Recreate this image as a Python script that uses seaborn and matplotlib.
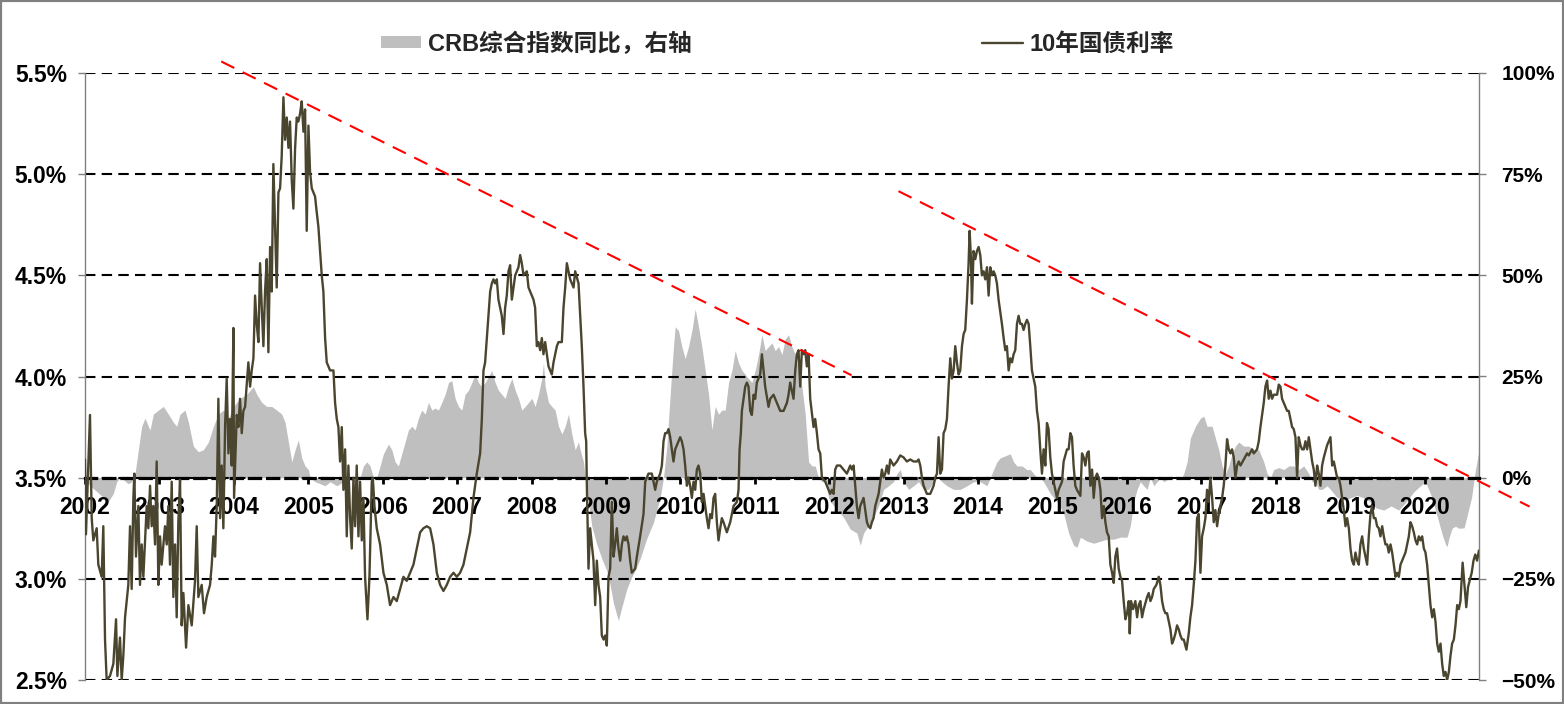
import pandas as pd
import seaborn as sns
import matplotlib.pyplot as plt
from matplotlib.patches import Patch, Rectangle
from matplotlib.lines import Line2D
from matplotlib.ticker import FuncFormatter

# 10Y government bond yield (%)
yield_year = [
    2002.000, 2002.013, 2002.067, 2002.090, 2002.112, 2002.157, 2002.179, 2002.224, 2002.246, 2002.269,
    2002.291, 2002.336, 2002.381, 2002.417, 2002.435, 2002.470, 2002.493, 2002.515, 2002.538, 2002.582,
    2002.605, 2002.627, 2002.650, 2002.663, 2002.685, 2002.717, 2002.739, 2002.762, 2002.784, 2002.829,
    2002.851, 2002.874, 2002.896, 2002.918, 2002.941, 2002.963, 2002.986, 2003.008, 2003.030, 2003.075,
    2003.098, 2003.120, 2003.142, 2003.165, 2003.187, 2003.210, 2003.232, 2003.254, 2003.277, 2003.299,
    2003.322, 2003.358, 2003.389, 2003.434, 2003.478, 2003.501, 2003.523, 2003.568, 2003.599, 2003.635,
    2003.680, 2003.703, 2003.725, 2003.747, 2003.770, 2003.792, 2003.815, 2003.837, 2003.859, 2003.882,
    2003.904, 2003.927, 2003.949, 2003.971, 2003.994, 2004.003, 2004.039, 2004.061, 2004.083, 2004.106,
    2004.128, 2004.151, 2004.195, 2004.218, 2004.240, 2004.263, 2004.285, 2004.307, 2004.330, 2004.352,
    2004.375, 2004.397, 2004.419, 2004.442, 2004.464, 2004.487, 2004.509, 2004.531, 2004.554, 2004.576,
    2004.599, 2004.621, 2004.643, 2004.666, 2004.688, 2004.711, 2004.733, 2004.755, 2004.778, 2004.800,
    2004.823, 2004.845, 2004.867, 2004.890, 2004.912, 2004.935, 2004.957, 2004.979, 2005.002, 2005.024,
    2005.047, 2005.091, 2005.114, 2005.136, 2005.159, 2005.181, 2005.203, 2005.226, 2005.248,
    2005.293, 2005.338, 2005.360, 2005.383, 2005.405, 2005.427, 2005.450, 2005.472, 2005.495, 2005.517,
    2005.539, 2005.562, 2005.584, 2005.607, 2005.629, 2005.651, 2005.674, 2005.696, 2005.719, 2005.741,
    2005.763, 2005.795, 2005.822, 2005.853, 2005.867, 2005.889, 2005.920, 2005.965, 2006.010, 2006.055,
    2006.099, 2006.144, 2006.189, 2006.234, 2006.279, 2006.323, 2006.368, 2006.413, 2006.458, 2006.503,
    2006.547, 2006.592, 2006.637, 2006.682, 2006.727, 2006.771, 2006.816, 2006.861, 2006.906, 2006.951,
    2006.995, 2007.040, 2007.085, 2007.130, 2007.175, 2007.219, 2007.264, 2007.309, 2007.332, 2007.354,
    2007.376, 2007.399, 2007.444, 2007.466, 2007.488, 2007.511, 2007.533, 2007.555, 2007.578, 2007.600,
    2007.623, 2007.645, 2007.667, 2007.690, 2007.712, 2007.735, 2007.780, 2007.824, 2007.847, 2007.869,
    2007.892, 2007.936, 2007.959, 2007.981, 2008.004, 2008.026, 2008.048, 2008.071, 2008.093, 2008.116,
    2008.138, 2008.160, 2008.183, 2008.228, 2008.272, 2008.295, 2008.340, 2008.362, 2008.407, 2008.429,
    2008.452, 2008.474, 2008.519, 2008.564, 2008.586, 2008.631,
    2008.653, 2008.675, 2008.698, 2008.720, 2008.734, 2008.743, 2008.765, 2008.787, 2008.810, 2008.832,
    2008.855, 2008.877, 2008.899, 2008.922, 2008.944, 2008.967, 2008.989, 2009.011, 2009.034, 2009.056,
    2009.079, 2009.101, 2009.123, 2009.146, 2009.168, 2009.191, 2009.213, 2009.235, 2009.258, 2009.280,
    2009.303, 2009.325, 2009.347, 2009.392, 2009.415, 2009.459, 2009.504, 2009.527, 2009.549, 2009.571,
    2009.616, 2009.639, 2009.661, 2009.683, 2009.728, 2009.751, 2009.773, 2009.795, 2009.818, 2009.840,
    2009.863, 2009.885, 2009.907, 2009.930, 2009.952, 2009.997, 2010.019, 2010.042, 2010.064, 2010.087,
    2010.109, 2010.131, 2010.154, 2010.176, 2010.199, 2010.221, 2010.243, 2010.266, 2010.288, 2010.311,
    2010.333, 2010.355, 2010.378, 2010.400, 2010.423, 2010.445, 2010.467, 2010.490, 2010.512, 2010.535,
    2010.557, 2010.579, 2010.624, 2010.669, 2010.714, 2010.759, 2010.781, 2010.795, 2010.812, 2010.826,
    2010.848, 2010.871, 2010.893, 2010.915, 2010.938, 2010.960, 2010.983, 2011.005, 2011.027, 2011.072,
    2011.095, 2011.117, 2011.139, 2011.184, 2011.207, 2011.251, 2011.296, 2011.341, 2011.386, 2011.431,
    2011.453, 2011.475, 2011.520, 2011.543, 2011.565, 2011.587, 2011.610, 2011.632, 2011.655, 2011.677,
    2011.699, 2011.722, 2011.744, 2011.789, 2011.811, 2011.834, 2011.856, 2011.879, 2011.901, 2011.946,
    2011.991,
    2012.013, 2012.035, 2012.058, 2012.080, 2012.103, 2012.147, 2012.192, 2012.237, 2012.259, 2012.282,
    2012.304, 2012.327, 2012.349, 2012.371, 2012.394, 2012.416, 2012.461, 2012.483, 2012.506, 2012.528,
    2012.551, 2012.573, 2012.595, 2012.618, 2012.663, 2012.685, 2012.707, 2012.730, 2012.752, 2012.775,
    2012.797, 2012.819, 2012.864, 2012.909, 2012.954, 2012.999, 2013.043, 2013.088, 2013.133, 2013.178,
    2013.200, 2013.223, 2013.245, 2013.267, 2013.290, 2013.312, 2013.357, 2013.379, 2013.402, 2013.424,
    2013.447, 2013.469, 2013.491, 2013.514, 2013.536, 2013.559, 2013.581, 2013.603, 2013.626, 2013.648,
    2013.671, 2013.693, 2013.715, 2013.738, 2013.760, 2013.783, 2013.805, 2013.827, 2013.850, 2013.872,
    2013.886, 2013.904, 2013.917, 2013.939, 2013.962, 2013.984, 2014.007, 2014.029, 2014.051, 2014.074,
    2014.096, 2014.119, 2014.141, 2014.163, 2014.186, 2014.208, 2014.231, 2014.253, 2014.275, 2014.298,
    2014.320, 2014.343, 2014.365, 2014.387, 2014.410, 2014.432, 2014.455, 2014.477, 2014.499, 2014.522,
    2014.544, 2014.567, 2014.589, 2014.611, 2014.634, 2014.656, 2014.679, 2014.701, 2014.723, 2014.746,
    2014.768, 2014.791, 2014.813, 2014.835, 2014.858, 2014.880, 2014.903, 2014.925, 2014.947, 2014.970,
    2014.992, 2015.015, 2015.037, 2015.059, 2015.082, 2015.104, 2015.127, 2015.149, 2015.194, 2015.216,
    2015.239, 2015.261, 2015.283, 2015.306, 2015.328,
    2015.374, 2015.396, 2015.419, 2015.441, 2015.464, 2015.486, 2015.508, 2015.531, 2015.553, 2015.576,
    2015.598, 2015.620, 2015.643, 2015.665, 2015.688, 2015.710, 2015.732, 2015.755, 2015.777, 2015.800,
    2015.822, 2015.844, 2015.867, 2015.889, 2015.912, 2015.934, 2015.956, 2015.979, 2016.001, 2016.024,
    2016.037, 2016.055, 2016.082, 2016.113, 2016.136, 2016.158, 2016.180, 2016.203, 2016.225, 2016.270,
    2016.292, 2016.315, 2016.337, 2016.360, 2016.395, 2016.427, 2016.449, 2016.472, 2016.494, 2016.516,
    2016.539, 2016.561, 2016.584, 2016.606, 2016.628, 2016.651, 2016.673, 2016.696, 2016.718, 2016.741,
    2016.763, 2016.799, 2016.830, 2016.852, 2016.875, 2016.897, 2016.920, 2016.942, 2016.964, 2016.987,
    2017.009, 2017.032, 2017.054, 2017.076, 2017.099, 2017.121, 2017.144, 2017.166, 2017.188, 2017.211,
    2017.233, 2017.256, 2017.278, 2017.300, 2017.323, 2017.345, 2017.368, 2017.390, 2017.412, 2017.435,
    2017.457, 2017.480, 2017.502, 2017.525, 2017.569, 2017.614, 2017.636, 2017.681, 2017.704, 2017.748,
    2017.771, 2017.793, 2017.816, 2017.838, 2017.860, 2017.883, 2017.905, 2017.928, 2017.950, 2017.972,
    2018.017, 2018.040, 2018.062, 2018.084, 2018.107, 2018.129, 2018.152, 2018.174, 2018.196, 2018.219,
    2018.241, 2018.264, 2018.286, 2018.308, 2018.331, 2018.353, 2018.376, 2018.398, 2018.421, 2018.443,
    2018.465, 2018.488, 2018.510, 2018.532, 2018.555, 2018.577, 2018.600, 2018.622, 2018.645, 2018.689,
    2018.734,
    2018.757, 2018.779, 2018.801, 2018.824, 2018.846, 2018.869, 2018.891, 2018.913, 2018.936, 2018.958,
    2018.981, 2019.003, 2019.025, 2019.048, 2019.070, 2019.093, 2019.115, 2019.137, 2019.160, 2019.182,
    2019.205, 2019.227, 2019.249, 2019.272, 2019.294, 2019.317, 2019.339, 2019.361, 2019.384, 2019.406,
    2019.429, 2019.451, 2019.473, 2019.496, 2019.518, 2019.541, 2019.563, 2019.585, 2019.608, 2019.630,
    2019.653, 2019.675, 2019.697, 2019.720, 2019.742, 2019.765, 2019.787, 2019.809, 2019.832, 2019.854,
    2019.877, 2019.899, 2019.921, 2019.944, 2019.966, 2019.989, 2020.011, 2020.033, 2020.056, 2020.078,
    2020.101, 2020.123, 2020.145, 2020.168, 2020.190, 2020.213, 2020.235, 2020.257, 2020.280, 2020.302,
    2020.325, 2020.347, 2020.369, 2020.392, 2020.414, 2020.437, 2020.459, 2020.481, 2020.510, 2020.559,
    2020.583, 2020.632, 2020.656, 2020.680, 2020.704, 2020.729,
]
yield_pct = [
    3.59, 3.22, 3.81, 3.30, 3.19, 3.25, 3.07, 3.01, 3.26, 2.70,
    2.50, 2.52, 2.58, 2.80, 2.52, 2.71, 2.50, 2.62, 2.81, 2.97,
    3.26, 2.95, 3.40, 3.52, 3.11, 3.36, 2.97, 3.17, 3.01, 3.36,
    3.25, 3.46, 3.26, 3.36, 3.17, 3.58, 2.97, 3.21, 3.07, 3.26,
    3.17, 3.36, 3.07, 3.48, 2.91, 3.17, 2.81, 3.28, 3.49, 2.77,
    2.93, 2.66, 2.87, 2.77, 2.99, 3.26, 2.91, 2.97, 2.83, 2.91,
    2.97, 3.07, 3.21, 3.11, 3.36, 3.89, 3.30, 3.56, 3.25, 3.75,
    3.99, 3.62, 3.79, 3.56, 4.24, 3.40, 3.81, 3.75, 3.89, 3.72,
    3.83, 3.85, 4.07, 3.95, 4.03, 4.09, 4.40, 4.26, 4.17, 4.56,
    4.34, 4.15, 4.42, 4.58, 4.12, 4.64, 4.42, 5.05, 4.74, 4.44,
    4.91, 4.93, 5.09, 5.38, 5.17, 5.28, 5.13, 5.26, 4.97, 4.83,
    5.13, 5.28, 5.26, 5.30, 5.36, 5.21, 5.32, 4.72, 5.24, 5.01,
    4.93, 4.89, 4.81, 4.74, 4.62, 4.50, 4.42, 4.19, 4.07,
    4.03, 4.03, 3.87, 3.79, 3.75, 3.58, 3.75, 3.44, 3.64, 3.21,
    3.56, 3.30, 3.15, 3.50, 3.26, 3.56, 3.21, 3.48, 3.19, 3.40,
    3.01, 2.80, 3.01, 3.48, 3.50, 3.36, 3.25, 3.17, 3.03, 2.97,
    2.87, 2.91, 2.89, 2.95, 3.01, 2.99, 3.03, 3.07, 3.15, 3.23,
    3.25, 3.26, 3.25, 3.17, 3.03, 2.97, 2.94, 2.97, 3.01, 3.03,
    3.01, 3.03, 3.07, 3.15, 3.23, 3.40, 3.52, 3.62, 3.79, 4.03,
    4.07, 4.19, 4.42, 4.46, 4.48, 4.46, 4.48, 4.38, 4.34, 4.30,
    4.21, 4.34, 4.40, 4.52, 4.55, 4.38, 4.50, 4.54, 4.60, 4.56,
    4.50, 4.52, 4.44, 4.42, 4.40, 4.38, 4.34, 4.15, 4.17, 4.13,
    4.19, 4.11, 4.17, 4.05, 4.01, 4.07, 4.15, 4.17, 4.17, 4.34,
    4.44, 4.56, 4.48, 4.44, 4.52, 4.46,
    4.30, 4.15, 3.95, 3.72, 3.68, 3.46, 3.05, 3.25, 3.17, 3.09,
    2.87, 3.09, 2.97, 2.91, 2.72, 2.70, 2.72, 2.67, 3.01, 3.05,
    3.38, 3.11, 3.17, 3.25, 3.15, 3.09, 3.17, 3.21, 3.19, 3.21,
    3.17, 3.09, 3.03, 3.05, 3.11, 3.21, 3.32, 3.48, 3.50, 3.52,
    3.52, 3.48, 3.44, 3.48, 3.52, 3.56, 3.68, 3.72, 3.72, 3.74,
    3.70, 3.64, 3.58, 3.64, 3.66, 3.70, 3.68, 3.64, 3.56, 3.46,
    3.50, 3.46, 3.40, 3.48, 3.44, 3.54, 3.56, 3.52, 3.38, 3.42,
    3.36, 3.30, 3.25, 3.32, 3.30, 3.40, 3.42, 3.28, 3.19, 3.25,
    3.30, 3.28, 3.23, 3.28, 3.36, 3.38, 3.44, 3.64, 3.72, 3.83,
    3.89, 3.95, 3.97, 3.95, 3.83, 3.81, 3.91, 3.89, 3.97, 4.01,
    4.11, 4.03, 3.95, 3.85, 3.89, 3.91, 3.87, 3.83, 3.83, 3.87,
    3.91, 3.97, 3.89, 4.03, 4.11, 4.13, 3.95, 4.13, 4.11, 4.13,
    4.05, 4.11, 3.89, 3.75, 3.79, 3.72, 3.64, 3.62, 3.50, 3.48,
    3.44,
    3.42, 3.44, 3.42, 3.54, 3.56, 3.56, 3.54, 3.52, 3.54, 3.56,
    3.54, 3.56, 3.46, 3.36, 3.30, 3.36, 3.40, 3.34, 3.28, 3.26,
    3.25, 3.28, 3.30, 3.36, 3.42, 3.48, 3.54, 3.50, 3.52, 3.56,
    3.52, 3.59, 3.56, 3.58, 3.61, 3.60, 3.58, 3.59, 3.58, 3.58,
    3.59, 3.56, 3.50, 3.46, 3.44, 3.42, 3.42, 3.44, 3.46, 3.50,
    3.52, 3.70, 3.52, 3.54, 3.72, 3.74, 3.79, 3.95, 4.09, 3.99,
    4.03, 4.15, 4.07, 4.01, 4.03, 4.15, 4.21, 4.23, 4.38, 4.56,
    4.72, 4.58, 4.36, 4.62, 4.58, 4.62, 4.64, 4.60, 4.50, 4.52,
    4.48, 4.54, 4.40, 4.54, 4.50, 4.52, 4.50, 4.46, 4.38, 4.32,
    4.26, 4.19, 4.13, 4.15, 4.03, 4.09, 4.07, 4.11, 4.13, 4.26,
    4.30, 4.26, 4.26, 4.23, 4.26, 4.28, 4.26, 4.15, 4.03, 3.99,
    3.95, 3.83, 3.77, 3.64, 3.52, 3.64, 3.56, 3.77, 3.74, 3.60,
    3.52, 3.48, 3.44, 3.40, 3.44, 3.46, 3.48, 3.58, 3.64, 3.64,
    3.72, 3.70, 3.56, 3.46, 3.44,
    3.41, 3.62, 3.60, 3.56, 3.62, 3.63, 3.46, 3.54, 3.40, 3.50,
    3.52, 3.50, 3.44, 3.30, 3.36, 3.28, 3.23, 3.21, 3.07, 3.03,
    2.98, 3.11, 3.15, 3.05, 3.01, 2.99, 2.89, 2.80, 2.83, 2.89,
    2.73, 2.89, 2.85, 2.89, 2.81, 2.87, 2.89, 2.81, 2.85, 2.91,
    2.93, 2.89, 2.91, 2.95, 2.97, 3.01, 2.97, 2.89, 2.85, 2.83,
    2.83, 2.79, 2.75, 2.68, 2.70, 2.73, 2.77, 2.75, 2.72, 2.70,
    2.70, 2.65, 2.73, 2.81, 2.87, 2.97, 3.09, 3.30, 3.32, 3.03,
    3.21, 3.25, 3.30, 3.44, 3.38, 3.50, 3.40, 3.28, 3.34, 3.26,
    3.32, 3.36, 3.40, 3.46, 3.56, 3.69, 3.64, 3.62, 3.64, 3.60,
    3.50, 3.56, 3.58, 3.56, 3.59, 3.62, 3.61, 3.64, 3.62, 3.64,
    3.68, 3.75, 3.81, 3.87, 3.95, 3.98, 3.89, 3.93, 3.89, 3.91,
    3.91, 3.96, 3.95, 3.89, 3.87, 3.85, 3.83, 3.83, 3.79, 3.75,
    3.74, 3.70, 3.50, 3.70, 3.66, 3.64, 3.64, 3.68, 3.64, 3.70,
    3.64, 3.58, 3.54, 3.46, 3.56, 3.52, 3.46, 3.56, 3.60, 3.66,
    3.70,
    3.56, 3.58, 3.54, 3.50, 3.50, 3.46, 3.40, 3.34, 3.26, 3.30,
    3.25, 3.15, 3.09, 3.07, 3.13, 3.09, 3.07, 3.17, 3.21, 3.15,
    3.11, 3.07, 3.21, 3.32, 3.36, 3.30, 3.30, 3.26, 3.25, 3.21,
    3.26, 3.21, 3.17, 3.17, 3.13, 3.17, 3.13, 3.07, 3.01, 3.03,
    3.01, 3.07, 3.09, 3.11, 3.13, 3.17, 3.21, 3.28, 3.26, 3.23,
    3.19, 3.17, 3.21, 3.19, 3.21, 3.15, 3.13, 3.07, 2.97, 2.87,
    2.81, 2.85, 2.79, 2.68, 2.64, 2.68, 2.58, 2.52, 2.54, 2.50,
    2.54, 2.62, 2.68, 2.70, 2.77, 2.87, 2.85, 2.89, 3.08, 2.86,
    2.96, 3.03, 3.09, 3.12, 3.09, 3.14,
]

# CRB index year-on-year change (%), right axis
crb_year = [
    2002.000, 2002.067, 2002.157, 2002.246, 2002.314, 2002.381, 2002.426, 2002.470, 2002.515, 2002.582,
    2002.627, 2002.672, 2002.717, 2002.762, 2002.806, 2002.851, 2002.874, 2002.918, 2002.986, 2003.053,
    2003.120, 2003.187, 2003.232, 2003.277, 2003.344, 2003.389, 2003.456, 2003.523, 2003.590, 2003.658,
    2003.725, 2003.792, 2003.859, 2003.927, 2003.994, 2004.083, 2004.173, 2004.263, 2004.307, 2004.375,
    2004.442, 2004.509, 2004.576, 2004.643, 2004.688, 2004.733, 2004.778, 2004.823, 2004.867, 2004.912,
    2004.957, 2005.002, 2005.024, 2005.091, 2005.159, 2005.226, 2005.293,
    2005.383, 2005.472, 2005.562, 2005.651, 2005.696, 2005.741, 2005.786, 2005.831, 2005.875, 2005.920,
    2005.965, 2006.010, 2006.077, 2006.122, 2006.167, 2006.211, 2006.256, 2006.301, 2006.346, 2006.391,
    2006.436, 2006.480, 2006.525, 2006.570, 2006.615, 2006.660, 2006.704, 2006.749, 2006.794, 2006.839,
    2006.884, 2006.928, 2006.973, 2007.018, 2007.063, 2007.107, 2007.152, 2007.197, 2007.242, 2007.287,
    2007.332, 2007.376, 2007.421, 2007.466, 2007.511, 2007.555, 2007.600, 2007.645, 2007.690, 2007.735,
    2007.780, 2007.824, 2007.869, 2007.914, 2007.959, 2008.004, 2008.048, 2008.093, 2008.138, 2008.160,
    2008.183, 2008.228, 2008.272, 2008.317, 2008.362, 2008.407, 2008.452, 2008.496, 2008.541, 2008.586,
    2008.631,
    2008.653, 2008.698, 2008.720, 2008.765, 2008.810, 2008.877, 2008.944, 2009.011, 2009.056, 2009.100,
    2009.146, 2009.168, 2009.213, 2009.280, 2009.347, 2009.415, 2009.459, 2009.504, 2009.549, 2009.594,
    2009.639, 2009.683, 2009.728, 2009.773, 2009.818, 2009.863, 2009.907, 2009.930, 2009.975, 2010.019,
    2010.064, 2010.109, 2010.154, 2010.199, 2010.243, 2010.288, 2010.333, 2010.378, 2010.423, 2010.467,
    2010.512, 2010.557, 2010.602, 2010.647, 2010.692, 2010.736, 2010.781, 2010.826, 2010.871, 2010.915,
    2010.960, 2011.005, 2011.050, 2011.095, 2011.139, 2011.184, 2011.229, 2011.274, 2011.319, 2011.364,
    2011.408, 2011.453, 2011.498, 2011.543, 2011.587, 2011.632, 2011.677, 2011.722, 2011.767, 2011.811,
    2011.856, 2011.901, 2011.946, 2011.991,
    2012.013, 2012.103, 2012.192, 2012.282, 2012.371, 2012.416, 2012.461, 2012.528, 2012.595, 2012.663,
    2012.730, 2012.797, 2012.864, 2012.909, 2012.954, 2012.999, 2013.066, 2013.133, 2013.200, 2013.267,
    2013.334, 2013.402, 2013.469, 2013.514, 2013.581, 2013.671, 2013.760, 2013.850, 2013.939, 2014.029,
    2014.119, 2014.163, 2014.208, 2014.253, 2014.298, 2014.365, 2014.432, 2014.477, 2014.522, 2014.589,
    2014.656, 2014.701, 2014.746, 2014.791, 2014.835, 2014.880, 2014.970, 2015.059, 2015.149, 2015.216,
    2015.283, 2015.328,
    2015.374, 2015.464, 2015.553, 2015.643, 2015.732, 2015.822, 2015.912, 2016.001, 2016.046, 2016.091,
    2016.136, 2016.180, 2016.225, 2016.270, 2016.315, 2016.360, 2016.404, 2016.449, 2016.494, 2016.584,
    2016.673, 2016.718, 2016.763, 2016.808, 2016.852, 2016.920, 2016.987, 2017.032, 2017.076, 2017.144,
    2017.188, 2017.233, 2017.278, 2017.323, 2017.368, 2017.412, 2017.457, 2017.502, 2017.569, 2017.636,
    2017.704, 2017.771, 2017.838, 2017.883, 2017.928, 2017.972, 2018.040, 2018.107, 2018.174, 2018.241,
    2018.308, 2018.376, 2018.443, 2018.488, 2018.532, 2018.577, 2018.622, 2018.689,
    2018.734, 2018.779, 2018.824, 2018.913, 2019.003, 2019.093, 2019.182, 2019.272, 2019.350, 2019.450,
    2019.550, 2019.650, 2019.750, 2019.854, 2019.944, 2020.011, 2020.056, 2020.101, 2020.145, 2020.190,
    2020.235, 2020.280, 2020.302, 2020.325, 2020.369, 2020.414, 2020.459, 2020.530, 2020.630, 2020.680,
    2020.729,
]
crb_yoy = [
    -0.5, -2.0, -3.4, -4.9, -5.9, -3.9, -1.0, 0.0, -0.5, -1.5,
    -1.0, 1.0, 6.9, 12.7, 14.7, 12.7, 11.8, 15.7, 16.7, 17.6,
    15.7, 13.7, 12.7, 15.7, 16.7, 13.7, 7.8, 6.4, 6.9, 8.8,
    12.7, 15.7, 16.7, 14.7, 17.6, 19.6, 20.6, 22.5, 20.6, 18.6,
    17.6, 17.6, 16.7, 15.7, 13.7, 8.8, 3.9, 6.9, 9.3, 4.9,
    2.9, 2.0, 0.0, -1.0, -1.5, -2.0, -1.0,
    -2.0, -1.0, -0.5, -1.5, 0.0, 2.9, 3.9, 2.9, 0.0, 0.0,
    2.9, 5.9, 8.3, 6.9, 3.9, 2.9, 5.9, 8.8, 11.8, 12.7,
    11.8, 14.7, 16.7, 15.7, 18.6, 16.7, 17.2, 16.7, 18.6, 20.6,
    23.5, 24.0, 19.6, 17.6, 16.7, 20.6, 21.6, 23.5, 25.5, 23.5,
    22.5, 23.5, 25.0, 26.5, 23.5, 21.6, 20.6, 19.6, 22.5, 24.5,
    21.6, 19.6, 16.7, 17.6, 18.6, 19.6, 17.6, 20.6, 24.5, 28.4,
    22.5, 18.6, 17.6, 16.7, 12.7, 10.8, 12.7, 15.7, 10.8, 6.9,
    8.8,
    6.9, 3.9, 0.0, -6.0, -12.0, -16.5, -20.0, -23.0, -26.5, -31.0,
    -34.0, -35.3, -32.0, -27.5, -24.5, -22.0, -20.0, -17.5, -15.0, -13.0,
    -11.0, -8.0, -4.9, 0.0, 7.8, 20.6, 32.4, 37.3, 36.3, 32.4,
    29.4, 32.4, 36.3, 41.7, 37.3, 32.4, 26.5, 20.6, 11.8, 17.6,
    15.7, 16.7, 16.7, 23.5, 26.5, 31.4, 28.4, 26.5, 25.5, 24.5,
    23.5, 26.5, 30.4, 35.3, 31.4, 32.4, 33.3, 31.4, 32.4, 30.4,
    34.3, 35.3, 32.4, 30.4, 26.5, 22.5, 15.7, 3.9, 2.9, 2.9,
    0.0, -1.0, -1.0, -4.9,
    -5.9, -7.8, -9.8, -12.7, -13.7, -16.7, -13.7, -11.8, -9.8, -6.9,
    -2.9, -2.0, -1.0, 1.0, 2.0, -1.0, -2.9, -2.0, -1.0, -2.9,
    -2.9, -1.0, 0.0, -1.0, -2.0, -2.9, -2.9, -2.0, -1.0, -1.0,
    -2.0, 0.0, 2.0, 3.9, 4.9, 5.4, 5.9, 3.9, 2.9, 2.9,
    2.0, 2.0, 1.0, 0.0, 0.0, -1.0, -3.9, -5.9, -8.8, -13.7,
    -16.7, -17.2,
    -14.7, -15.7, -16.2, -15.7, -15.2, -15.2, -14.7, -14.7, -11.8, -5.9,
    -2.9, -1.0, -2.0, -2.9, 0.0, -2.0, -1.0, 0.0, -1.0, 0.0,
    0.0, -0.5, 1.0, 3.9, 9.8, 12.7, 14.7, 15.2, 12.7, 12.7,
    9.8, 6.9, 2.9, 1.0, 2.9, 5.9, 7.8, 8.8, 7.8, 7.8,
    6.9, 6.9, 3.9, 1.0, 0.0, 2.0, 2.5, 2.0, 2.9, 2.9,
    2.0, 2.9, 1.0, -1.0, -1.0, -2.9, -2.9, -2.0,
    -2.9, -3.9, -4.9, -5.5, -5.0, -4.4, -5.0, -6.0, -7.5, -8.0,
    -7.0, -8.0, -6.0, -3.5, -2.0, -1.0, -3.0, -5.0, -8.0, -11.0,
    -14.0, -16.5, -17.0, -15.0, -12.5, -12.0, -12.5, -12.4, -4.9, 1.7,
    6.7,
]

# two dashed resistance lines drawn on the chart (yield axis)
trend_year = [[2003.83, 2012.30], [2012.93, 2021.41]]
trend_pct = [[5.557, 4.006], [4.916, 3.357]]

year_ticks = list(range(2002, 2021))
left_ticks = [2.5, 3.0, 3.5, 4.0, 4.5, 5.0, 5.5]
right_ticks = [-50, -25, 0, 25, 50, 75, 100]
labels = ['CRB综合指数同比，右轴', '10年国债利率']

sns.set_theme(style='white')
plt.rcParams['font.family'] = ['Liberation Sans', 'Noto Sans CJK SC', 'DejaVu Sans']
plt.rcParams['font.weight'] = 'bold'

yld = pd.DataFrame({'date': yield_year, 'rate': yield_pct})
crb = pd.DataFrame({'date': crb_year, 'yoy': crb_yoy})

W, H = 1564, 704
fig = plt.figure(figsize=(W / 100, H / 100), dpi=100)
ax = fig.add_axes([85 / W, 24 / H, (1479 - 85) / W, (680 - 73) / H])
ax2 = ax.twinx()
ax.set_zorder(ax2.get_zorder() + 1)
ax.patch.set_visible(False)

# CRB yoy area on the right axis
ax2.fill_between(crb['date'], 0, crb['yoy'], color='#BFBFBF', linewidth=0)
ax2.set_ylim(-50, 100)
ax2.set_yticks(right_ticks)
ax2.yaxis.set_major_formatter(FuncFormatter(lambda v, p: f'{v:.0f}%'.replace('-', '\u2212')))

# yield line on the left axis
sns.lineplot(data=yld, x='date', y='rate', ax=ax, color='#4A452E', linewidth=1.7,
             estimator=None, sort=False, zorder=3)
for ty, tp in zip(trend_year, trend_pct):
    ax.plot(ty, tp, color='#FF0000', linewidth=1.5, dashes=(7, 4.5), clip_on=False, zorder=4)

ax.set_xlim(2002.0, 2020.73)
ax.set_ylim(2.5, 5.5)
ax.set_yticks(left_ticks)
ax.yaxis.set_major_formatter(FuncFormatter(lambda v, p: f'{v:.1f}%'))
ax.set_xticks(year_ticks)
ax.set_xticklabels([str(y) for y in year_ticks])
ax.set_xlabel('')
ax.set_ylabel('')
ax.grid(axis='y', color='black', linestyle=(0, (5, 3)), linewidth=1.5)
ax.grid(axis='x', visible=False)

for s in ['top', 'right']:
    ax.spines[s].set_visible(False)
ax.spines['left'].set_color('#808080')
ax.spines['left'].set_linewidth(1)
ax.spines['bottom'].set_position(('data', 3.5))
ax.spines['bottom'].set_color('black')
ax.spines['bottom'].set_linewidth(2.3)
ax.spines['bottom'].set_linestyle((0, (3.5, 2.2)))
for s in ['top', 'left', 'bottom']:
    ax2.spines[s].set_visible(False)
ax2.spines['right'].set_color('#808080')
ax2.spines['right'].set_linewidth(1)

ax.tick_params(axis='y', direction='out', length=5, width=1, color='#808080', pad=8,
               labelsize=16.5, labelcolor='black', left=True)
ax.tick_params(axis='x', direction='out', length=4, width=2, color='black', pad=9,
               labelsize=16.5, labelcolor='black', bottom=True)
ax2.tick_params(axis='y', direction='out', length=5, width=1, color='#808080', pad=11,
                labelsize=15, labelcolor='black', right=True)

handles = [Patch(facecolor='#BFBFBF', edgecolor='none'),
           Line2D([0], [0], color='#4A452E', linewidth=1.7)]
fig.legend(handles, labels, loc='center left', bbox_to_anchor=(381 / W, 1 - 44 / H), ncol=2,
           frameon=False, fontsize=17, handlelength=1.7, handleheight=0.42, handletextpad=0.3,
           columnspacing=12.3, borderpad=0, borderaxespad=0)

fig.add_artist(Rectangle((0, 0), 1, 1, transform=fig.transFigure, fill=False,
                         edgecolor='#808080', linewidth=3))

fig.savefig('out.png', dpi=100)
